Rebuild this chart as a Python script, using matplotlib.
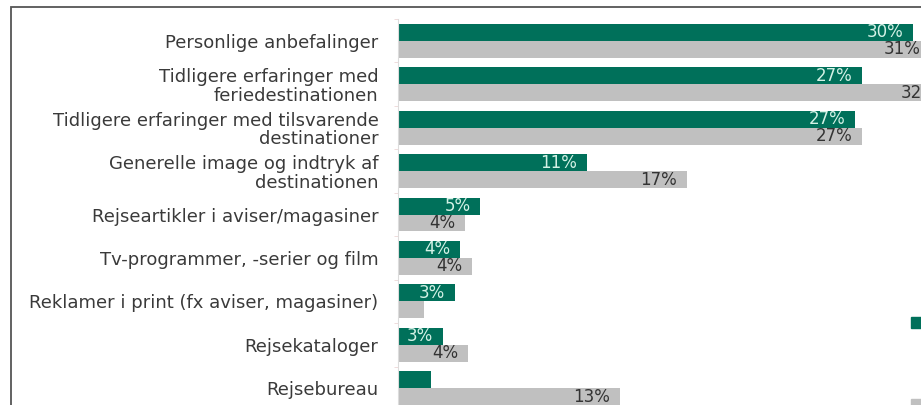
import numpy as np
import matplotlib
matplotlib.use("Agg")
import matplotlib.pyplot as plt
from matplotlib.patches import Patch, Rectangle

categories = [
    "Personlige anbefalinger",
    "Tidligere erfaringer med\nferiedestinationen",
    "Tidligere erfaringer med tilsvarende\ndestinationer",
    "Generelle image og indtryk af\ndestinationen",
    "Rejseartikler i aviser/magasiner",
    "Tv-programmer, -serier og film",
    "Reklamer i print (fx aviser, magasiner)",
    "Rejsekataloger",
    "Rejsebureau",
]
# percent of respondents
green_values = [30, 27, 26.6, 11, 4.8, 3.6, 3.3, 2.6, 1.9]
grey_values = [31, 32, 27, 16.8, 3.9, 4.3, 1.5, 4.1, 12.9]

GREEN = "#00705a"
GREY = "#c0c0c0"

fig = plt.figure(figsize=(9.21, 4.05), dpi=100)
# axes are larger than the visible crop on the right and bottom
ax = fig.add_axes([398 / 921, -5 / 405, 584 / 921, 391 / 405])

y = np.arange(len(categories))
h = 0.39
green_bars = ax.barh(y - h / 2, green_values, height=h, color=GREEN)
grey_bars = ax.barh(y + h / 2, grey_values, height=h, color=GREY)

ax.set_ylim(len(categories) - 0.5, -0.5)
ax.set_xlim(0, 34)

for bars, vals, col in [(green_bars, green_values, "#d4f2e6"),
                        (grey_bars, grey_values, "#333333")]:
  for bar, v in zip(bars, vals):
    if v < 2.5:
      continue
    ax.annotate(f"{round(v)}%",
                xy=(v, bar.get_y() + bar.get_height() / 2),
                xytext=(-7, 0), textcoords="offset points",
                ha="right", va="center", fontsize=12, color=col)

ax.set_yticks(y, categories, fontsize=13, color="#3a3a3a")
for lbl in ax.get_yticklabels():
  lbl.set_linespacing(1.05)
ax.tick_params(axis="y", length=0, pad=14)
ax.set_yticks(np.arange(len(categories) + 1) - 0.5, minor=True)
ax.tick_params(axis="y", which="minor", length=3, color="#ecd6d6")
ax.set_xticks([])
for side in ["top", "right", "bottom"]:
  ax.spines[side].set_visible(False)
ax.spines["left"].set_color("#dcdcdc")

# legend, cut off at the right edge like in the source screenshot
fig.legend(handles=[Patch(color=GREEN), Patch(color=GREY)], labels=["", ""],
           loc="upper left", bbox_to_anchor=(903 / 921, 97 / 405),
           frameon=False, handlelength=0.7, handleheight=0.7,
           labelspacing=4.4, borderpad=0, fontsize=11)

# screenshot frame
fig.add_artist(Rectangle((11 / 921, -0.5), 2, 0.5 + 398 / 405,
                         transform=fig.transFigure, fill=False,
                         edgecolor="#555555", linewidth=1.3))

fig.savefig("out.png", dpi=100, facecolor="white")
